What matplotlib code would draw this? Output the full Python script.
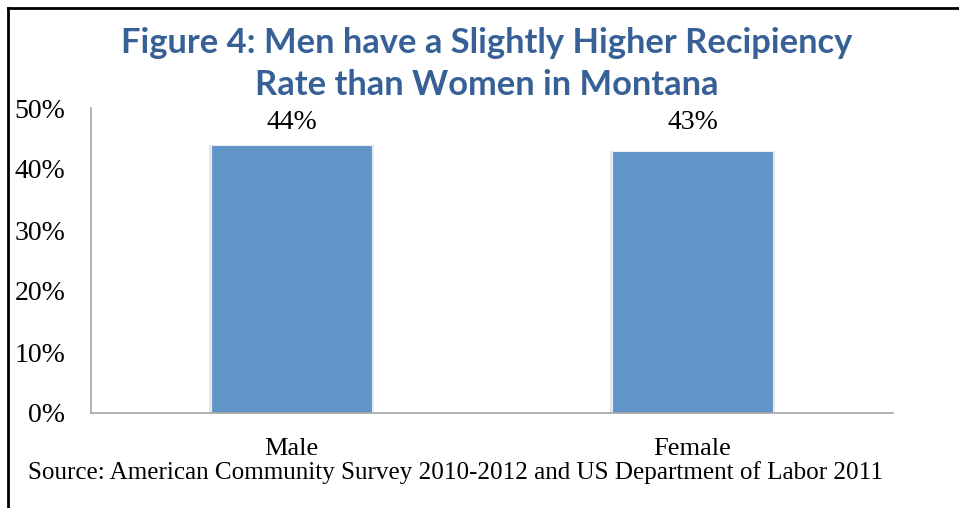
import matplotlib
matplotlib.use("Agg")
import matplotlib.pyplot as plt
from matplotlib.lines import Line2D
from matplotlib.ticker import PercentFormatter

categories = ["Male", "Female"]
rates = [44, 43]
yticks = [0, 10, 20, 30, 40, 50]

title = "Figure 4: Men have a Slightly Higher Recipiency\nRate than Women in Montana"
source = "Source: American Community Survey 2010-2012 and US Department of Labor 2011"

W, H = 959, 508
fig = plt.figure(figsize=(W / 100, H / 100), dpi=100)
ax = fig.add_axes([91 / W, 1 - 413 / H, (893 - 91) / W, (413 - 108) / H])

serif = "Liberation Serif"
bar_color = "#6195C8"

x = list(range(len(categories)))
# soft drop shadow behind bars
ax.bar(x, rates, width=0.412, color="#e4e4e4", zorder=1)
bars = ax.bar(x, rates, width=0.4, color=bar_color, edgecolor="#e8eef6",
              linewidth=0.8, zorder=2)
for b, v in zip(bars, rates):
    ax.text(b.get_x() + b.get_width() / 2, 47.7, f"{v}%", ha="center",
            va="center", fontsize=20, family=serif)

ax.set_xlim(-0.5, 1.5)
ax.set_ylim(0, 50)
ax.set_yticks(yticks)
ax.yaxis.set_major_formatter(PercentFormatter(decimals=0))
ax.set_xticks(x)
ax.set_xticklabels(categories)
ax.tick_params(length=0)
ax.tick_params(axis="y", pad=18.5, labelsize=20)
ax.tick_params(axis="x", pad=18, labelsize=19)
for lab in ax.get_xticklabels() + ax.get_yticklabels():
    lab.set_family(serif)
for s in ("top", "right"):
    ax.spines[s].set_visible(False)
for s in ("left", "bottom"):
    ax.spines[s].set_color("#a6a6a6")
    ax.spines[s].set_linewidth(1.2)

fig.text(487 / W, 1 - 64 / H, title, ha="center", va="center", fontsize=24.8,
         fontweight="bold", color="#376196", family="Lato", linespacing=1.4)
fig.text(28 / W, 1 - 473 / H, source, ha="left", va="center", fontsize=18.1,
         family=serif)

# frame lines on the left and top
fig.add_artist(Line2D([8 / W, 8 / W], [0, 1 - 8 / H], color="black", lw=2,
                      transform=fig.transFigure))
fig.add_artist(Line2D([8 / W, 1], [1 - 8 / H, 1 - 8 / H], color="black", lw=2,
                      transform=fig.transFigure))

fig.savefig("out.png", dpi=100)
